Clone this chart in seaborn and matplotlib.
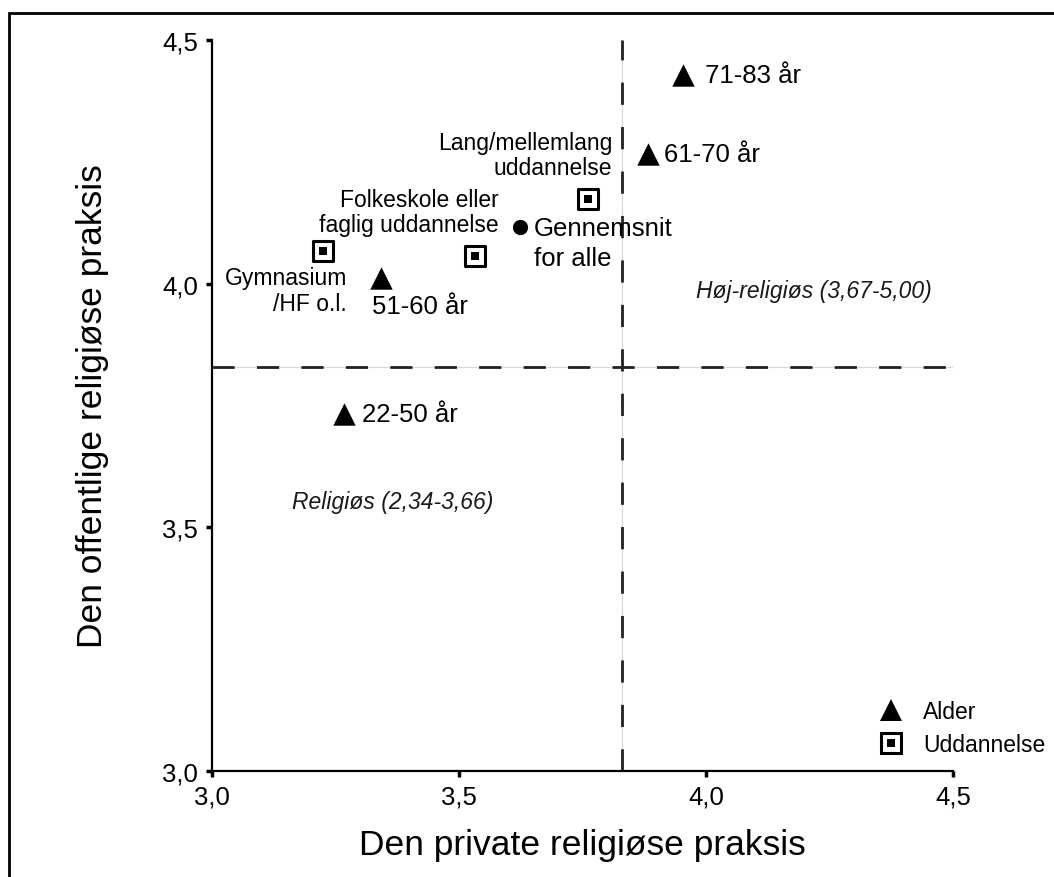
import numpy as np
import pandas as pd
import matplotlib
matplotlib.use("Agg")
import matplotlib.pyplot as plt
from matplotlib.lines import Line2D
from matplotlib.patches import Rectangle
import seaborn as sns

# data
labels = ["71-83 år", "61-70 år", "51-60 år", "22-50 år",
          "Gymnasium\n/HF o.l.", "Folkeskole eller\nfaglig uddannelse",
          "Lang/mellemlang\nuddannelse", "Gennemsnit\nfor alle"]
privat = [3.954, 3.882, 3.343, 3.268, 3.225, 3.533, 3.762, 3.624]
offentlig = [4.428, 4.267, 4.012, 3.733, 4.068, 4.056, 4.173, 4.117]
gruppe = ["Alder", "Alder", "Alder", "Alder",
          "Uddannelse", "Uddannelse", "Uddannelse", "Alle"]
graense = 3.83
ticks = [3.0, 3.5, 4.0, 4.5]
tick_labels = ["3,0", "3,5", "4,0", "4,5"]

df = pd.DataFrame({"label": labels, "privat": privat,
                   "offentlig": offentlig, "gruppe": gruppe})

sns.set_theme(style="ticks")
plt.rcParams["font.family"] = ["Liberation Sans", "DejaVu Sans"]
plt.rcParams["text.color"] = "black"
plt.rcParams["axes.labelcolor"] = "black"

fig = plt.figure(figsize=(10.54, 8.78), dpi=100)
ax = fig.add_axes([212 / 1054, 1 - 772 / 878, 741 / 1054, 731 / 878])

# quadrant lines: faint solid line under a dashed one
for f in (ax.axhline, ax.axvline):
    f(graense, color="#d8d8d8", lw=0.8, zorder=1)
ax.axhline(graense, color="#222222", lw=2, dashes=(8, 8), zorder=2)
ax.axvline(graense, color="#222222", lw=2, dashes=(8, 8), zorder=2)

alder = df[df.gruppe == "Alder"]
udd = df[df.gruppe == "Uddannelse"]
alle = df[df.gruppe == "Alle"]

sns.scatterplot(data=alder, x="privat", y="offentlig", marker="^", s=260,
                color="black", linewidth=0, ax=ax, legend=False, zorder=5)
sns.scatterplot(data=udd, x="privat", y="offentlig", marker="s", s=210,
                color="white", edgecolor="black", linewidth=2.2, ax=ax,
                legend=False, zorder=5)
sns.scatterplot(data=udd, x="privat", y="offentlig", marker="s", s=28,
                color="black", linewidth=0, ax=ax, legend=False, zorder=6)
sns.scatterplot(data=alle, x="privat", y="offentlig", marker="o", s=120,
                color="black", linewidth=0, ax=ax, legend=False, zorder=5)

# point labels (offsets in points)
opts = {
    "71-83 år": dict(xytext=(16, 0), ha="left", va="center", fontsize=18.5),
    "61-70 år": dict(xytext=(12, 0), ha="left", va="center", fontsize=18.5),
    "51-60 år": dict(xytext=(-7, -20), ha="left", va="center", fontsize=18.5),
    "22-50 år": dict(xytext=(13, 0), ha="left", va="center", fontsize=18.5),
    "Gymnasium\n/HF o.l.": dict(xytext=(17, -29), ha="right", va="center",
                                fontsize=16.5, linespacing=1.15),
    "Folkeskole eller\nfaglig uddannelse": dict(xytext=(17, 32), ha="right",
                                                va="center", fontsize=16.5,
                                                linespacing=1.15),
    "Lang/mellemlang\nuddannelse": dict(xytext=(17, 32), ha="right",
                                        va="center", fontsize=16.5,
                                        linespacing=1.15),
    "Gennemsnit\nfor alle": dict(xytext=(10, -12), ha="left", va="center",
                                 fontsize=18.5, linespacing=1.3),
}
for _, r in df.iterrows():
    ax.annotate(r["label"], (r["privat"], r["offentlig"]),
                textcoords="offset points", color="black", zorder=7,
                **opts[r["label"]])

ax.text(3.98, 3.985, "Høj-religiøs (3,67-5,00)", style="italic",
        fontsize=16.5, ha="left", va="center", color="#1a1a1a")
ax.text(3.162, 3.553, "Religiøs (2,34-3,66)", style="italic",
        fontsize=16.5, ha="left", va="center", color="#1a1a1a")

ax.set_xlim(3.0, 4.5)
ax.set_ylim(3.0, 4.5)
ax.set_xticks(ticks)
ax.set_xticklabels(tick_labels)
ax.set_yticks(ticks)
ax.set_yticklabels(tick_labels)
ax.tick_params(axis="both", direction="out", length=4, width=2.5,
               labelsize=18.5, color="black", labelcolor="black", pad=6)
sns.despine(ax=ax)
for s in ("left", "bottom"):
    ax.spines[s].set_linewidth(1.6)
    ax.spines[s].set_color("black")

ax.set_xlabel("Den private religiøse praksis", fontsize=25.5, labelpad=14,
              color="black")
ax.set_ylabel("Den offentlige religiøse praksis", fontsize=25.5, labelpad=38,
              color="black")

# legend
h_alder = Line2D([], [], marker="^", ls="", color="black", markersize=16,
                 markeredgewidth=0)
h_udd_o = Line2D([], [], marker="s", ls="", markerfacecolor="white",
                 markeredgecolor="black", markersize=14.5, markeredgewidth=2.2)
h_udd_i = Line2D([], [], marker="s", ls="", color="black", markersize=5.3,
                 markeredgewidth=0)
leg = ax.legend([h_alder, (h_udd_o, h_udd_i)], ["Alder", "Uddannelse"],
                loc="upper left", bbox_to_anchor=(0.885, 0.11), frameon=False,
                fontsize=16.5, handletextpad=0.8, labelspacing=0.45,
                handlelength=1.2, borderaxespad=0)
for t in leg.get_texts():
    t.set_color("black")

# frame around the figure (only left and top edge are in view)
fig.add_artist(Rectangle((9 / 1054, -0.2), 1.3, 1.2 - 14 / 878,
                         transform=fig.transFigure, fill=False,
                         edgecolor="black", lw=2))

fig.savefig("out.png", dpi=100)
